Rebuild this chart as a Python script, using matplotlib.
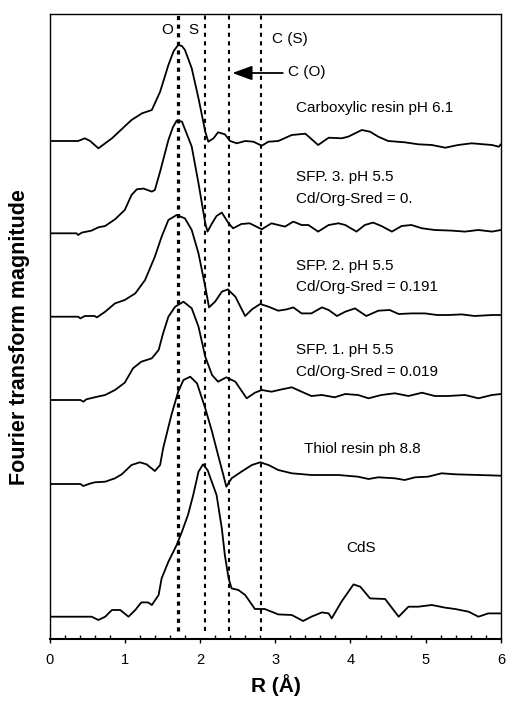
import matplotlib
matplotlib.use("Agg")
import matplotlib.pyplot as plt
from matplotlib.ticker import MultipleLocator

plt.rcParams['font.family'] = ['Liberation Sans', 'DejaVu Sans']
plt.rcParams['lines.scale_dashes'] = False

# ---- data (R in Angstrom, magnitude in arbitrary units above each baseline) ----
r_carb = [0.0, 0.38, 0.47, 0.54, 0.65, 0.83, 1.09, 1.23, 1.36, 1.47, 1.58, 1.65, 1.71, 1.76, 1.80, 1.89, 1.98, 2.07, 2.11, 2.18,
          2.24, 2.33, 2.40, 2.49, 2.60, 2.71, 2.82, 2.91, 3.04, 3.22, 3.40, 3.57, 3.71, 3.88, 3.97, 4.15, 4.26,
          4.37, 4.50, 4.72, 4.90, 5.08, 5.26, 5.43, 5.61, 5.88, 5.97, 6.0]
m_carb = [0, 0, 2.7, 0, -7.3, 2.7, 21, 27.7, 31, 49.3, 76, 90, 96, 95, 91, 72.7, 42.7, 9.3, -0.7, 2.7,
          8.7, 6.7, 0, -2.3, 0, -0.7, -4.7, -0.7, 0, 6, 7.3, -4, 3.3, 2.7, 4.3, 11, 9.3,
          4.3, 0, -1.3, -3.3, -4, -6.7, -4, -2.3, -4, -5.7, -3.3]

r_sfp3 = [0.0, 0.36, 0.38, 0.43, 0.56, 0.65, 0.74, 0.87, 1.00, 1.09, 1.16, 1.25, 1.36, 1.40, 1.47, 1.58, 1.64, 1.69,
          1.76, 1.89, 1.98, 2.07, 2.10, 2.16, 2.22, 2.29, 2.38, 2.44, 2.55, 2.66, 2.82, 2.95, 3.04, 3.13,
          3.24, 3.35, 3.44, 3.57, 3.71, 3.84, 3.93, 4.08, 4.19, 4.30, 4.41, 4.55, 4.68, 4.81, 4.95, 5.12,
          5.34, 5.52, 5.70, 5.88, 6.0]
m_sfp3 = [0, 0, -1.7, 0.7, 2.7, 6, 7.3, 14, 23.3, 38.3, 44, 44.7, 41.7, 43.3, 61.7, 93.3, 106, 112.7,
          111.7, 86.7, 50, 10, 1.7, 10, 17.3, 20.7, 10, 5, 9.3, 10, 4, 10, 8.3, 6.7,
          11.7, 8.3, 8.3, 1.7, 8.3, 10, 8.3, 1.7, 8.3, 10.7, 7.3, 1.7, 7.3, 8.3, 5, 3.3,
          2.7, 1.7, 3.3, 1.7, 3.3]

r_sfp2 = [0.0, 0.38, 0.41, 0.47, 0.60, 0.63, 0.74, 0.87, 1.00, 1.14, 1.27, 1.40, 1.49, 1.58, 1.69, 1.80,
          1.89, 1.98, 2.07, 2.12, 2.20, 2.29, 2.37, 2.47, 2.60, 2.69, 2.80, 2.91, 3.04, 3.15, 3.24, 3.35,
          3.48, 3.62, 3.71, 3.82, 3.93, 4.06, 4.21, 4.37, 4.52, 4.64, 4.81, 4.99, 5.15, 5.30, 5.48, 5.65,
          5.88, 6.0]
m_sfp2 = [0, 0, -1.7, 0.7, 0.7, -0.7, 5, 13.3, 16.7, 23.3, 36.7, 60, 80, 96.7, 101.7, 98.3,
          86.7, 63.3, 30, 9.3, 15, 25, 27.3, 20, 0.7, 7.3, 12.7, 10, 6, 7.3, 9.3, 3.3,
          3.3, 9.3, 6.7, 0.7, 5, 8.3, 0.7, 6, 6.7, 2.7, 3.3, 3.3, 1.7, 1.7, 2.3, 0.7,
          1.7, 1.7]

r_sfp1 = [0.0, 0.41, 0.45, 0.49, 0.60, 0.74, 0.87, 1.00, 1.11, 1.22, 1.36, 1.45, 1.51, 1.58, 1.67, 1.78,
          1.89, 1.98, 2.07, 2.16, 2.24, 2.35, 2.47, 2.62, 2.73, 2.82, 2.95, 3.09, 3.22, 3.35, 3.48, 3.62,
          3.79, 3.93, 4.10, 4.24, 4.41, 4.59, 4.77, 4.95, 5.12, 5.30, 5.52, 5.70, 5.88, 6.0]
m_sfp1 = [0, 0, -1.7, 0.7, 2.7, 5, 10, 17.3, 31.7, 38.3, 41.7, 50, 66.7, 83.3, 93.3, 98.3,
          91.7, 73.3, 43.3, 25, 18.3, 22.7, 18.3, 1.7, 7.3, 10, 8.3, 10.7, 12.7, 8.3, 4, 5,
          2.7, 6, 5, 1.7, 5, 6.7, 4, 7.3, 4, 4, 5, 1.7, 5, 6]

r_thiol = [0.0, 0.41, 0.45, 0.52, 0.60, 0.74, 0.87, 0.96, 1.09, 1.20, 1.29, 1.40, 1.47, 1.51, 1.62, 1.71,
           1.78, 1.87, 1.96, 2.07, 2.16, 2.24, 2.31, 2.35, 2.42, 2.55, 2.69, 2.80, 2.91, 3.04, 3.22, 3.48,
           3.84, 4.10, 4.24, 4.37, 4.59, 4.72, 4.86, 5.03, 5.21, 5.39, 5.70, 6.0]
m_thiol = [0, 0, -2, 0, 1.7, 2.3, 5.7, 9.7, 19, 21.7, 19.7, 13, 19, 35.7, 69, 92.3,
           104, 107.3, 100.7, 75.7, 52.3, 29, 9, -2.7, 5.7, 12.3, 19, 21.7, 19, 14, 10.7, 9,
           9, 7.3, 5, 6.7, 5.7, 4, 6.7, 7.3, 10.7, 9.7, 9, 8.3]

r_cds = [0.0, 0.56, 0.65, 0.74, 0.83, 0.94, 1.05, 1.14, 1.22, 1.31, 1.36, 1.45, 1.49, 1.58, 1.69, 1.76,
         1.84, 1.91, 1.98, 2.04, 2.10, 2.22, 2.29, 2.33, 2.38, 2.42, 2.51, 2.60, 2.73, 2.86, 3.04, 3.22,
         3.37, 3.48, 3.62, 3.71, 3.75, 3.88, 4.04, 4.13, 4.26, 4.46, 4.64, 4.77, 4.90, 5.08, 5.26, 5.39,
         5.57, 5.70, 5.83, 6.0]
m_cds = [0, 0, -3.3, 0, 6.7, 6.7, 0, 6.7, 14.3, 14.3, 11.7, 21.7, 38.3, 55, 71.7, 85,
         101.7, 121.7, 145, 152.3, 146.7, 121.7, 88.3, 61.7, 38.3, 28.3, 26.7, 21.7, 7.7, 7.7, 2.3, 1.7,
         -4.3, 0, 4.3, 3.3, -1.7, 15, 32.3, 30, 18.3, 17.7, 0, 10, 10, 11.7, 9, 7.7,
         5, 0, 3.3, 3.3]

offsets = [498, 405.7, 322.3, 239, 155, 22.3]
series = [(r_carb, m_carb), (r_sfp3, m_sfp3), (r_sfp2, m_sfp2),
          (r_sfp1, m_sfp1), (r_thiol, m_thiol), (r_cds, m_cds)]

ref_lines = [1.71, 2.07, 2.38, 2.81]

labels = [
    ("Carboxylic resin pH 6.1", 3.275, 531),
    ("SFP. 3. pH 5.5", 3.275, 462),
    ("Cd/Org-Sred = 0.", 3.275, 440),
    ("SFP. 2. pH 5.5", 3.275, 373),
    ("Cd/Org-Sred = 0.191", 3.275, 352),
    ("SFP. 1. pH 5.5", 3.275, 289),
    ("Cd/Org-Sred = 0.019", 3.275, 267),
    ("Thiol resin ph 8.8", 3.38, 190),
]

fig = plt.figure(figsize=(5.07, 7.06), dpi=100)
ax = fig.add_axes([49.5 / 507, 67 / 706, 451.5 / 507, 625 / 706])

for (r, m), off in zip(series, offsets):
    ax.plot(r, [v + off for v in m], color='black', lw=1.3, solid_joinstyle='round')

# reference lines
ax.vlines(ref_lines[0], 8, 625, colors='black', lw=2.3, linestyles=(0, (3.0, 3.2)))
for xv in ref_lines[1:]:
    ax.vlines(xv, 8, 625, colors='black', lw=1.5, linestyles=(0, (3.0, 3.2)))

fs = 11
ax.text(1.57, 609, "O", ha='center', va='center', fontsize=fs)
ax.text(1.91, 609, "S", ha='center', va='center', fontsize=fs)
ax.text(2.957, 600, "C (S)", ha='left', va='center', fontsize=fs)
ax.text(3.17, 567, "C (O)", ha='left', va='center', fontsize=fs)
ax.annotate('', xy=(2.43, 566), xytext=(3.10, 566),
            arrowprops=dict(arrowstyle='-|>,head_length=0.6,head_width=0.22',
                            color='black', lw=1.3, mutation_scale=20, shrinkA=0, shrinkB=0))
for txt, xx, yy in labels:
    ax.text(xx, yy, txt, ha='left', va='center', fontsize=fs)
ax.text(4.14, 91, "CdS", ha='center', va='center', fontsize=fs)

ax.set_xlim(0, 6)
ax.set_ylim(0, 625)
ax.set_yticks([])
ax.xaxis.set_major_locator(MultipleLocator(1))
ax.xaxis.set_minor_locator(MultipleLocator(0.2))
ax.tick_params(axis='x', which='major', direction='out', length=3, width=1, labelsize=10.5, pad=7)
ax.tick_params(axis='x', which='minor', direction='in', length=3, width=1)
ax.tick_params(axis='x', which='both', top=False)
for s in ax.spines.values():
    s.set_linewidth(1.0)
ax.spines['bottom'].set_linewidth(1.5)

ax.set_xlabel("R (Å)", fontsize=15, fontweight='bold')
ax.xaxis.set_label_coords(0.501, -0.0736)
ax.xaxis.label.set_va('center')
ax.set_ylabel("Fourier transform magnitude", fontsize=15.5, fontweight='bold')
ax.yaxis.set_label_coords(-0.0675, 0.483)
ax.yaxis.label.set_va('center')

fig.savefig("out.png", dpi=100)
